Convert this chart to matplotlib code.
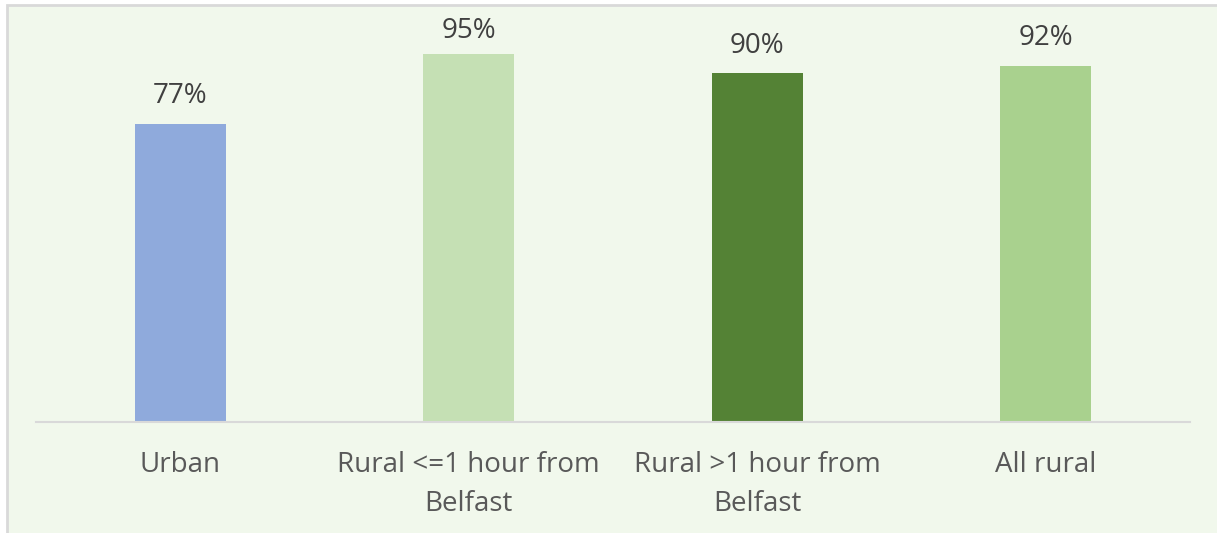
import matplotlib
matplotlib.use('Agg')
import matplotlib.pyplot as plt
from matplotlib.patches import Rectangle

plt.rcParams['font.family'] = ['Open Sans', 'DejaVu Sans']

categories = ['Urban', 'Rural <=1 hour from\nBelfast', 'Rural >1 hour from\nBelfast', 'All rural']
values = [77, 95, 90, 92]
colors = ['#8FAADC', '#C5E0B4', '#548235', '#A9D18E']

bg = '#F1F8EC'

fig = plt.figure(figsize=(12.17, 5.33), dpi=100)
fig.patch.set_facecolor('white')

# chart area with a light grey frame on top and left
frame = Rectangle((7 / 1217, -0.1), 1.2, 1 - 5 / 533 + 0.1, transform=fig.transFigure,
                  facecolor=bg, edgecolor='#D9D9D9', linewidth=2, zorder=-1)
fig.patches.append(frame)

ax = fig.add_axes([36 / 1217, 1 - 422 / 533, 1154 / 1217, 387.5 / 533])
ax.set_facecolor('none')
ax.set_zorder(1)

x = range(len(categories))
ax.bar(x, values, width=0.315, color=colors, zorder=2)

# value labels, kept inside the chart area for the tallest bar
for a, b in zip(x, values):
    ax.annotate('%d%%' % b, (a, min(b, 94)), xytext=(0, 9.5), textcoords='offset points',
                ha='center', va='bottom', fontsize=20, color='#404040',
                annotation_clip=False)

ax.set_xlim(-0.5, 3.5)
ax.set_ylim(0, 100)
ax.set_xticks(list(x))
ax.set_xticklabels(categories, fontsize=20, color='#595959', linespacing=1.52)
ax.tick_params(axis='x', length=0, pad=21)
ax.set_yticks([])
for s in ['top', 'right', 'left']:
    ax.spines[s].set_visible(False)
ax.spines['bottom'].set_color('#D9D9D9')
ax.spines['bottom'].set_linewidth(1.5)

fig.savefig('out.png', dpi=100, facecolor=fig.get_facecolor())
